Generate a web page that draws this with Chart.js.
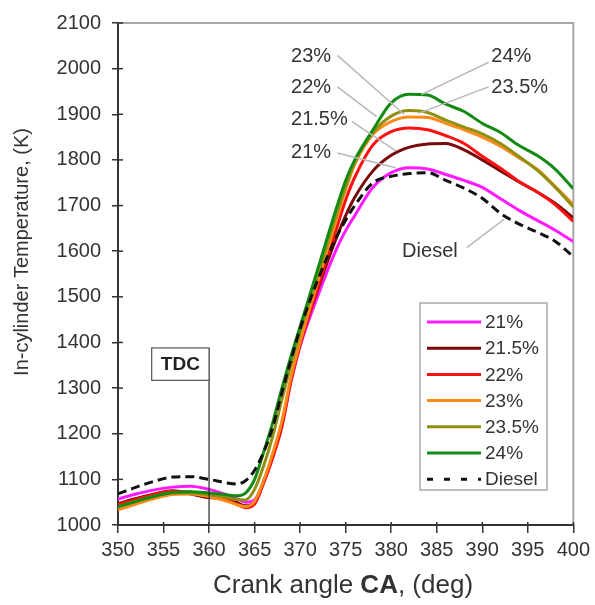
<!DOCTYPE html>
<html><head><meta charset="utf-8">
<script src="https://cdn.jsdelivr.net/npm/chart.js@4.4.1/dist/chart.umd.min.js"></script>
<style>html,body{margin:0;padding:0;background:#fff;}#wrap{width:595px;height:605px;}</style>
</head><body><div id="wrap"><canvas id="c" width="595" height="605"></canvas></div>
<script>
const crankAngle = [350,352,354,356,358,360,362,363,364,365,366,367,368,369,370,372,374,375,376,378,380,382,384,386,388,390,392,394,396,398,400];
const temp21   = [1057,1068,1077,1083,1085,1078,1066,1058,1050,1055,1095,1150,1222,1315,1392,1505,1605,1645,1678,1740,1772,1783,1780,1768,1755,1740,1715,1690,1668,1646,1621];
const temp21_5 = [1047,1058,1068,1075,1068,1060,1057,1050,1042,1050,1096,1152,1222,1320,1398,1520,1630,1678,1718,1776,1810,1828,1835,1836,1822,1800,1776,1752,1730,1705,1673];
const temp22   = [1045,1056,1067,1074,1072,1065,1055,1046,1038,1046,1092,1148,1215,1315,1395,1525,1650,1712,1762,1833,1862,1870,1866,1853,1836,1808,1782,1753,1730,1702,1665];
const temp23   = [1033,1046,1058,1067,1068,1062,1052,1045,1040,1052,1098,1158,1228,1325,1402,1538,1670,1735,1790,1856,1884,1894,1893,1880,1866,1850,1830,1805,1780,1742,1702];
const temp23_5 = [1040,1052,1063,1070,1070,1066,1060,1056,1055,1078,1130,1195,1275,1352,1422,1552,1682,1742,1795,1860,1896,1908,1904,1887,1872,1857,1836,1808,1778,1740,1697];
const temp24   = [1040,1052,1063,1071,1073,1070,1066,1064,1070,1100,1160,1225,1300,1370,1435,1565,1695,1755,1800,1866,1925,1944,1942,1922,1906,1880,1860,1832,1810,1780,1737];
const tempDiesel = [1068,1083,1096,1105,1106,1100,1092,1090,1097,1120,1160,1215,1290,1362,1430,1540,1632,1668,1700,1750,1764,1770,1772,1755,1738,1716,1683,1660,1642,1622,1588];
const seriesLabels = ['21%','21.5%','22%','23%','23.5%','24%','Diesel'];
const xTickValues = [350,355,360,365,370,375,380,385,390,395,400];
const yTickValues = [1000,1100,1200,1300,1400,1500,1600,1700,1800,1900,2000,2100];

// callout labels anchored in data units
const callouts = [
  {text:'23%',   at:[369.0,2027], from:[374.1,2029], to:[381.4,1900]},
  {text:'22%',   at:[369.0,1958], from:[374.1,1960], to:[378.4,1895]},
  {text:'21.5%', at:[369.0,1888], from:[375.7,1884], to:[380.5,1820]},
  {text:'21%',   at:[369.0,1817], from:[374.1,1815], to:[380.5,1783]},
  {text:'24%',   at:[391.0,2027], from:[390.7,2014], to:[383.3,1943]},
  {text:'23.5%', at:[391.0,1958], from:[390.7,1960], to:[383.0,1902]},
  {text:'Diesel',at:[381.2,1600], from:[388.3,1608], to:[392.45,1671]}
];
const tdc = {angle:360, boxFrom:353.7, top:1388, bottom:1317};

const seriesValues = [temp21,temp21_5,temp22,temp23,temp23_5,temp24,tempDiesel];
const colors = ['#ff1aff','#7a0a0a','#ff1010','#ff8a1a','#8f8f10','#138a13','#111111'];
const FONT = '"Liberation Sans", Arial, sans-serif';

const datasets = seriesValues.map((vals,i)=>({
  label: seriesLabels[i],
  data: crankAngle.map((x,j)=>({x:x,y:vals[j]})),
  borderColor: colors[i],
  backgroundColor: colors[i],
  borderWidth: 3,
  borderDash: i===6 ? [9,5] : [],
  pointRadius: 0,
  fill: false,
  cubicInterpolationMode: 'monotone',
  order: i===6 ? 0 : (7-i)
}));

const decor = {
  id:'decor',
  beforeDatasetsDraw(chart){
    const {ctx, chartArea:a} = chart;
    ctx.save();
    ctx.strokeStyle='#a8a8a8'; ctx.lineWidth=2;
    ctx.beginPath(); ctx.moveTo(a.left,a.top); ctx.lineTo(a.right,a.top); ctx.lineTo(a.right,a.bottom); ctx.stroke();
    ctx.restore();
  },
  afterDatasetsDraw(chart){
    const {ctx, chartArea:a, scales:{x,y}} = chart;
    ctx.save();
    // TDC
    const tx = x.getPixelForValue(tdc.angle);
    ctx.strokeStyle='#222'; ctx.lineWidth=1.2;
    ctx.beginPath(); ctx.moveTo(tx, y.getPixelForValue(tdc.top)); ctx.lineTo(tx, a.bottom); ctx.stroke();
    const bx0 = x.getPixelForValue(tdc.boxFrom), by0 = y.getPixelForValue(tdc.top), by1 = y.getPixelForValue(tdc.bottom);
    ctx.fillStyle='#fff'; ctx.fillRect(bx0,by0,tx-bx0,by1-by0);
    ctx.strokeStyle='#555'; ctx.lineWidth=1.2; ctx.strokeRect(bx0,by0,tx-bx0,by1-by0);
    ctx.fillStyle='#222'; ctx.font='bold 19px '+FONT; ctx.textAlign='center'; ctx.textBaseline='middle';
    ctx.fillText('TDC',(bx0+tx)/2,(by0+by1)/2+1);
    // callouts
    ctx.strokeStyle='#b8b8b8'; ctx.lineWidth=1.5;
    callouts.forEach(c=>{
      ctx.beginPath();
      ctx.moveTo(x.getPixelForValue(c.from[0]), y.getPixelForValue(c.from[1]));
      ctx.lineTo(x.getPixelForValue(c.to[0]), y.getPixelForValue(c.to[1]));
      ctx.stroke();
    });
    ctx.fillStyle='#333'; ctx.font='20px '+FONT; ctx.textAlign='left'; ctx.textBaseline='middle';
    callouts.forEach(c=>{
      ctx.fillText(c.text, x.getPixelForValue(c.at[0]), y.getPixelForValue(c.at[1]));
    });
    // inner tick parts
    ctx.strokeStyle='#333'; ctx.lineWidth=1.5;
    yTickValues.forEach(v=>{const py=y.getPixelForValue(v); ctx.beginPath(); ctx.moveTo(a.left,py); ctx.lineTo(a.left+5,py); ctx.stroke();});
    xTickValues.forEach(v=>{const px=x.getPixelForValue(v); ctx.beginPath(); ctx.moveTo(px,a.bottom); ctx.lineTo(px,a.bottom-3); ctx.stroke();});
    // legend
    const L={left:420,top:303,right:547,bottom:490};
    ctx.fillStyle='#fff'; ctx.fillRect(L.left,L.top,L.right-L.left,L.bottom-L.top);
    ctx.strokeStyle='#aaa'; ctx.lineWidth=1.5; ctx.strokeRect(L.left,L.top,L.right-L.left,L.bottom-L.top);
    ctx.font='19px '+FONT; ctx.textAlign='left'; ctx.textBaseline='middle';
    chart.data.datasets.forEach((d,i)=>{
      const ry = 322 + i*26.2;
      ctx.strokeStyle=d.borderColor; ctx.lineWidth=3;
      ctx.setLineDash(d.borderDash.length? [6,11] : []);
      ctx.beginPath(); ctx.moveTo(427,ry); ctx.lineTo(481,ry); ctx.stroke();
      ctx.setLineDash([]);
      ctx.fillStyle='#333'; ctx.fillText(d.label,485,ry+1);
    });
    ctx.restore();
  },
  afterDraw(chart){
    const {ctx} = chart;
    ctx.save();
    ctx.fillStyle='#333';
    ctx.font='20px '+FONT; ctx.textAlign='center'; ctx.textBaseline='middle';
    ctx.translate(22,252); ctx.rotate(-Math.PI/2);
    ctx.fillText('In-cylinder Temperature, (K)',0,0);
    ctx.restore();
    ctx.save();
    ctx.fillStyle='#333'; ctx.textBaseline='alphabetic'; ctx.textAlign='left';
    const parts=[['Crank angle ','26px '],['CA','bold 26px '],[', (deg)','26px ']];
    let total=0; parts.forEach(p=>{ctx.font=p[1]+FONT; total+=ctx.measureText(p[0]).width;});
    let sx = 343 - total/2;
    parts.forEach(p=>{ctx.font=p[1]+FONT; ctx.fillText(p[0],sx,593); sx+=ctx.measureText(p[0]).width;});
    ctx.restore();
  }
};

new Chart(document.getElementById('c'),{
  type:'line',
  data:{datasets:datasets},
  options:{
    responsive:false, animation:false, devicePixelRatio:1,
    layout:{padding:{left:0,right:20,top:15,bottom:0}},
    plugins:{legend:{display:false}, tooltip:{enabled:false}},
    scales:{
      x:{type:'linear', min:350, max:400,
        afterBuildTicks:s=>{s.ticks=xTickValues.map(v=>({value:v}));},
        afterFit:s=>{s.height=80;},
        ticks:{color:'#333', font:{family:FONT,size:20}, padding:5, maxRotation:0, autoSkip:false, callback:v=>String(v)},
        grid:{drawOnChartArea:false, drawTicks:true, tickLength:8, color:'#333', lineWidth:1.5},
        border:{display:true, color:'#333', width:2}
      },
      y:{type:'linear', min:1000, max:2100,
        afterBuildTicks:s=>{s.ticks=yTickValues.map(v=>({value:v}));},
        afterFit:s=>{s.width=118;},
        ticks:{color:'#333', font:{family:FONT,size:20}, padding:11, autoSkip:false, callback:v=>String(v)},
        grid:{drawOnChartArea:false, drawTicks:true, tickLength:6, color:'#333', lineWidth:1.5},
        border:{display:true, color:'#333', width:2}
      }
    }
  },
  plugins:[decor]
});
</script></body></html>
